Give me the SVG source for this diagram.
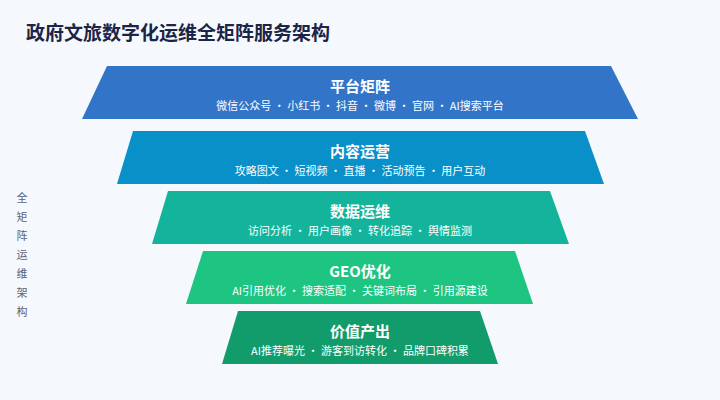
<svg xmlns="http://www.w3.org/2000/svg" width="720" height="400" viewBox="0 0 720 400">
<style>
.t{font-family:"Noto Sans CJK SC","Noto Sans",sans-serif;fill:#fff;text-anchor:middle}
.h{font-size:15px;font-weight:bold}
.s{font-size:11px}
.side{font-family:"Noto Sans CJK SC",sans-serif;font-size:11px;fill:#5a6478;text-anchor:middle}
</style>
<rect width="720" height="400" fill="#f5f8fd"/>
<text x="26" y="40" font-family="Noto Sans CJK SC,sans-serif" font-size="19" font-weight="bold" fill="#1c2447">政府文旅数字化运维全矩阵服务架构</text>
<g id="side"><text class="side" x="22" y="202">全</text><text class="side" x="22" y="221">矩</text><text class="side" x="22" y="240">阵</text><text class="side" x="22" y="259">运</text><text class="side" x="22" y="278">维</text><text class="side" x="22" y="297">架</text><text class="side" x="22" y="316">构</text></g>
<g id="l1"><polygon points="107,66 611,66 638,119 82,119" fill="#3274c8"/><text class="t h" x="360" y="92">平台矩阵</text><text class="t s" x="360" y="110">微信公众号 · 小红书 · 抖音 · 微博 · 官网 · AI搜索平台</text></g>
<g id="l2"><polygon points="133,131 585,131 604,184 117,184" fill="#0a90c8"/><text class="t h" x="360" y="157">内容运营</text><text class="t s" x="360" y="175">攻略图文 · 短视频 · 直播 · 活动预告 · 用户互动</text></g>
<g id="l3"><polygon points="168,191 550,191 569,244 152,244" fill="#14b49c"/><text class="t h" x="360" y="217">数据运维</text><text class="t s" x="360" y="235">访问分析 · 用户画像 · 转化追踪 · 舆情监测</text></g>
<g id="l4"><polygon points="203,251 515,251 533,304 186,304" fill="#1ec481"/><text class="t h" x="360" y="277">GEO优化</text><text class="t s" x="360" y="295">AI引用优化 · 搜索适配 · 关键词布局 · 引用源建设</text></g>
<g id="l5"><polygon points="238,311 480,311 498,364 222,364" fill="#129c6c"/><text class="t h" x="360" y="337">价值产出</text><text class="t s" x="360" y="355">AI推荐曝光 · 游客到访转化 · 品牌口碑积累</text></g>
<g id="connectors"/>
</svg>
